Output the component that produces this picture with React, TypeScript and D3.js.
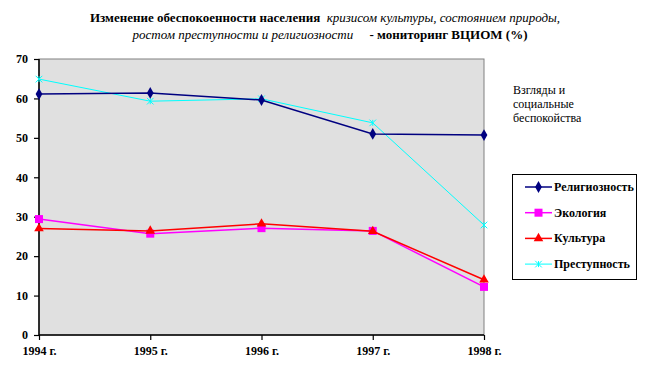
import { useEffect, useRef } from 'react';
import * as d3 from 'd3';

const years = ['1994 г.', '1995 г.', '1996 г.', '1997 г.', '1998 г.'];
const religion = [61.1, 61.4, 59.6, 51.0, 50.7];
const ecology = [29.4, 25.7, 27.1, 26.4, 12.2];
const culture = [27.0, 26.4, 28.2, 26.3, 14.0];
const crime = [64.9, 59.3, 59.9, 53.8, 27.9];
const yTicks = [0, 10, 20, 30, 40, 50, 60, 70];

const seriesNames = ['Религиозность', 'Экология', 'Культура', 'Преступность'];
const seriesColors = ['#000080', '#FF00FF', '#FF0000', '#00FFFF'];
const seriesShapes = ['diamond', 'square', 'triangle', 'star'];

const FONT = "'Liberation Serif'";

export default function App() {
  const svgRef = useRef<SVGSVGElement>(null);

  useEffect(() => {
    if (!svgRef.current) return;
    const svg = d3.select(svgRef.current);
    svg.selectAll('*').remove();

    const margin = { left: 39, top: 59, right: 484, bottom: 335 };
    const x = d3.scalePoint<string>().domain(years).range([margin.left, margin.right]);
    const y = d3.scaleLinear().domain([0, 70]).range([margin.bottom, margin.top]);

    // plot background
    svg.append('rect')
      .attr('x', margin.left).attr('y', margin.top)
      .attr('width', margin.right - margin.left).attr('height', margin.bottom - margin.top)
      .attr('fill', '#E0E0E0').attr('stroke', '#808080').attr('stroke-width', 1);

    // title
    const title = svg.append('text').attr('font-size', 13)
      .attr('text-anchor', 'middle').style('white-space', 'pre');
    const l1 = title.append('tspan').attr('x', 325).attr('y', 22);
    l1.append('tspan').attr('font-weight', 'bold').text('Изменение обеспокоенности населения  ');
    l1.append('tspan').attr('font-style', 'italic').text('кризисом культуры, состоянием природы,');
    const l2 = title.append('tspan').attr('x', 330).attr('y', 39);
    l2.append('tspan').attr('font-style', 'italic').text('ростом преступности и религиозности     ');
    l2.append('tspan').attr('font-weight', 'bold').text('- мониторинг ВЦИОМ (%)');

    // axes
    const yAxis = d3.axisLeft(y).tickValues(yTicks).tickSize(5).tickPadding(6);
    const gy = svg.append('g').attr('transform', `translate(${margin.left},0)`).call(yAxis);
    const xAxis = d3.axisBottom(x).tickSize(5).tickPadding(6);
    const gx = svg.append('g').attr('transform', `translate(0,${margin.bottom})`).call(xAxis);
    [gy, gx].forEach(g => {
      g.attr('font-family', null).attr('font-size', null);
      g.selectAll('path.domain').attr('stroke', '#000').attr('stroke-width', 1.5);
      g.selectAll('.tick line').attr('stroke', '#000').attr('stroke-width', 1.2);
      g.selectAll('.tick text')
        .attr('font-size', 12).attr('font-weight', 'bold').attr('fill', '#000');
    });
    gx.select('path.domain').attr('d', `M${margin.left},0H${margin.right}`);
    gy.select('path.domain').attr('d', `M0,${margin.bottom}V${margin.top}`);

    const data = [religion, ecology, culture, crime];
    const line = d3.line<number>().x((_, i) => x(years[i]) as number).y(d => y(d));

    const drawMarker = (g: any, shape: string, color: string, cx: number, cy: number) => {
      if (shape === 'diamond') {
        g.append('path').attr('d', d3.symbol(d3.symbolDiamond, 40)()).attr('transform', `translate(${cx},${cy})`).attr('fill', color);
      } else if (shape === 'square') {
        g.append('rect').attr('x', cx - 4).attr('y', cy - 4).attr('width', 8).attr('height', 8).attr('fill', color);
      } else if (shape === 'triangle') {
        g.append('path').attr('d', d3.symbol(d3.symbolTriangle, 40)()).attr('transform', `translate(${cx},${cy})`).attr('fill', color);
      } else {
        g.append('path').attr('d', d3.symbol(d3.symbolTimes, 30)()).attr('transform', `translate(${cx},${cy})`)
          .attr('fill', 'none').attr('stroke', color).attr('stroke-width', 1);
        g.append('line').attr('x1', cx).attr('x2', cx).attr('y1', cy - 3).attr('y2', cy + 3).attr('stroke', color);
      }
    };

    // draw crime line first, lines then markers
    const order = [3, 1, 2, 0];
    order.forEach(si => {
      const g = svg.append('g');
      g.append('path').datum(data[si]).attr('d', line).attr('fill', 'none')
        .attr('stroke', seriesColors[si]).attr('stroke-width', si === 3 ? 1 : 1.5);
      data[si].forEach((v, i) => drawMarker(g, seriesShapes[si], seriesColors[si], x(years[i]) as number, y(v)));
    });

    // annotation
    const note = svg.append('text').attr('font-size', 12).attr('fill', '#000');
    ['Взгляды и', 'социальные', 'беспокойства'].forEach((t, i) => {
      note.append('tspan').attr('x', 513).attr('y', 94 + i * 14).text(t);
    });

    // legend
    const lg = svg.append('g');
    lg.append('rect').attr('x', 512.5).attr('y', 174.5).attr('width', 124).attr('height', 105)
      .attr('fill', '#fff').attr('stroke', '#000').attr('stroke-width', 1);
    seriesNames.forEach((name, i) => {
      const ly = 187 + i * 25.7;
      lg.append('line').attr('x1', 525).attr('x2', 552).attr('y1', ly).attr('y2', ly)
        .attr('stroke', seriesColors[i]).attr('stroke-width', i === 3 ? 1 : 1.5);
      drawMarker(lg, seriesShapes[i], seriesColors[i], 538.5, ly);
      lg.append('text').attr('x', 554).attr('y', ly + 4).attr('font-size', 12)
        .attr('font-weight', 'bold').attr('fill', '#000').text(name);
    });
  }, []);

  return (
    <svg ref={svgRef} width={650} height={386}
      style={{ display: 'block', position: 'absolute', left: 0, top: 0, background: '#fff', fontFamily: FONT }} />
  );
}
